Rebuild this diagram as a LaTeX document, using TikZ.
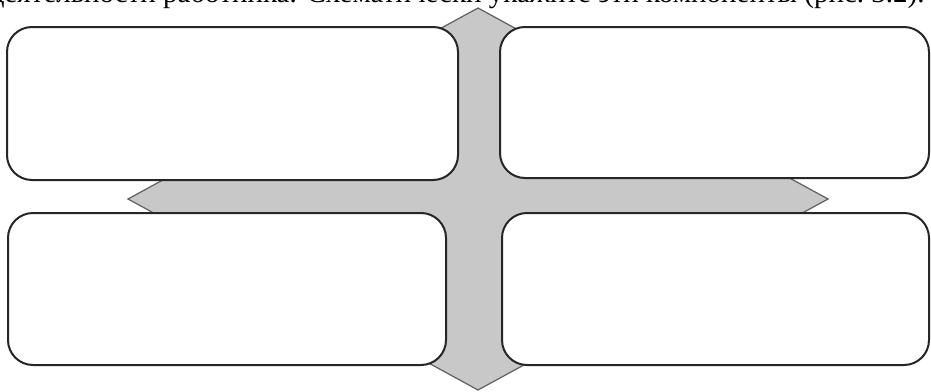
\documentclass[tikz,border=0pt]{standalone}
\usepackage{fontspec}
\setmainfont{Liberation Serif}
\usepackage{tikz}
\definecolor{arrowgrey}{RGB}{200,200,200}
\definecolor{arrowline}{RGB}{95,95,95}
\tikzset{
  panel/.style={draw=black!85,fill=white,line width=1pt,rounded corners=12.5pt,
                inner sep=0pt},
  quadarrow/.style={fill=arrowgrey,draw=arrowline,line width=.6pt,line join=miter},
}
\begin{document}
\begin{tikzpicture}[x=0.5pt,y=-0.5pt]
  \useasboundingbox (0,0) rectangle (931,391);
  % the line of text above, cut by the top edge
  \node[anchor=base east,inner sep=0pt,font=\fontsize{14.5}{17}\selectfont]
    (caption) at (925,3)
    {деятельности работника. Схематически укажите эти компоненты (рис.~3.2).};
  % the grey four-way arrow behind the panels
  \begin{scope}[shift={(478,199)}]
    \draw[quadarrow] (0,-191) -- (140,-114.6) -- (56,-114.6) -- (56,-30.6) --
      (210,-30.6) -- (210,-76.4) -- (350,0) -- (210,76.4) -- (210,30.6) --
      (56,30.6) -- (56,114.6) -- (140,114.6) -- (0,191) -- (-140,114.6) --
      (-56,114.6) -- (-56,30.6) -- (-210,30.6) -- (-210,76.4) -- (-350,0) --
      (-210,-76.4) -- (-210,-30.6) -- (-56,-30.6) -- (-56,-114.6) --
      (-140,-114.6) -- cycle;
  \end{scope}
  % the four empty panels
  \node[panel,minimum width=225.5pt,minimum height=76.5pt] (tl) at (232.5,103.5) {};
  \node[panel,minimum width=214.5pt,minimum height=75.5pt] (tr) at (714.5,102.5) {};
  \node[panel,minimum width=219pt,minimum height=76pt] (bl) at (227,289) {};
  \node[panel,minimum width=213.5pt,minimum height=76pt] (br) at (715.5,289) {};
\end{tikzpicture}
\end{document}
